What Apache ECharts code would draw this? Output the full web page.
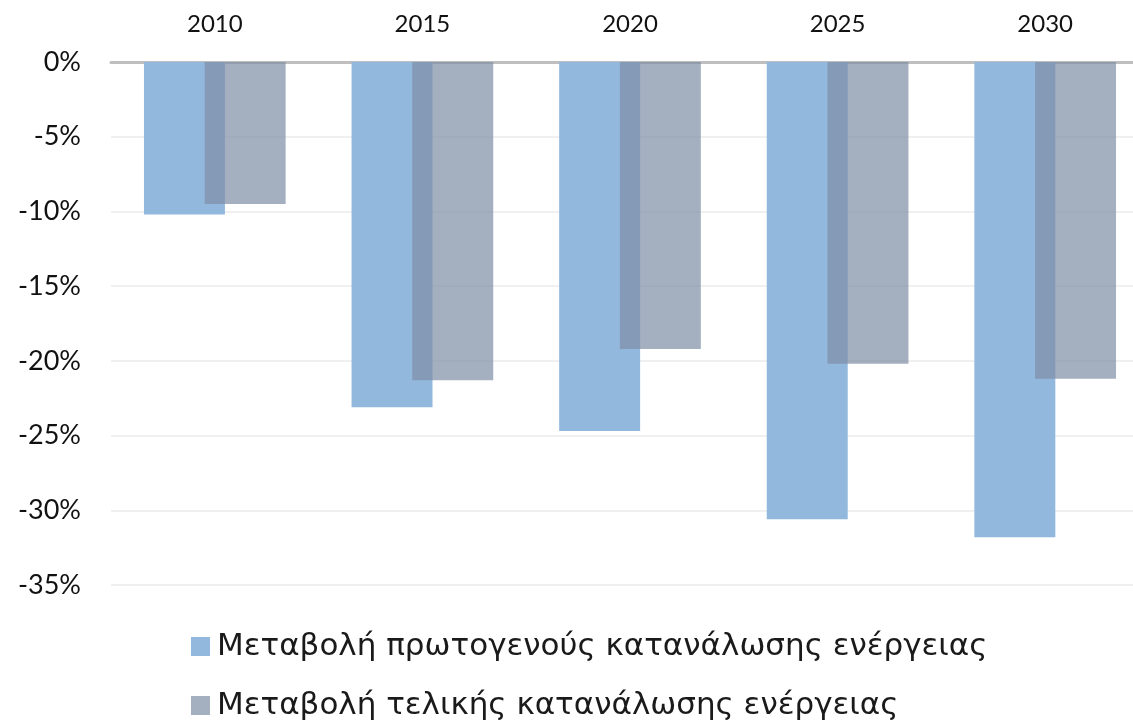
<!DOCTYPE html>
<html>
<head>
<meta charset="utf-8">
<script src="https://cdn.jsdelivr.net/npm/echarts@6/dist/echarts.min.js"></script>
<style>html,body{margin:0;padding:0;background:#fff;}#c{width:1133px;height:725px;}</style>
</head>
<body>
<div id="c"></div>
<script>
const categories = ['2010', '2015', '2020', '2025', '2030'];
const primaryChange = [-10.2, -23.1, -24.7, -30.6, -31.8];
const finalChange = [-9.5, -21.3, -19.2, -20.2, -21.2];
const seriesNames = ['Μεταβολή πρωτογενούς κατανάλωσης ενέργειας', 'Μεταβολή τελικής κατανάλωσης ενέργειας'];

const chart = echarts.init(document.getElementById('c'), null, {renderer: 'canvas'});
chart.setOption({
  animation: false,
  backgroundColor: '#ffffff',
  grid: {left: 111, width: 1038, top: 62, height: 523, containLabel: false, outerBoundsMode: 'none'},
  legend: {
    orient: 'vertical',
    left: 191,
    top: 631,
    padding: 0,
    height: 94,
    itemWidth: 19,
    itemHeight: 19,
    itemGap: 28,
    icon: 'rect',
    textStyle: {fontFamily: 'DejaVu Sans', fontSize: 31, lineHeight: 30, color: '#1a1a1a', padding: [0, 0, 0, 2]},
    data: seriesNames
  },
  xAxis: {
    type: 'category',
    position: 'top',
    data: categories,
    axisLine: {show: true, lineStyle: {color: '#bfbfbf', width: 3}},
    axisTick: {show: false},
    axisLabel: {fontFamily: 'Lato', fontSize: 24, color: '#111', margin: 26}
  },
  yAxis: {
    type: 'value',
    min: -35,
    max: 0,
    interval: 5,
    axisLine: {show: false},
    axisTick: {show: false},
    splitLine: {show: true, lineStyle: {color: '#f0f0f0', width: 2}},
    axisLabel: {fontFamily: 'Lato', fontSize: 27, color: '#111', margin: 30, formatter: v => v + '%'}
  },
  series: [
    {
      name: seriesNames[0],
      type: 'bar',
      data: primaryChange,
      barWidth: '39%',
      barGap: '-25%',
      itemStyle: {color: '#93b8de'}
    },
    {
      name: seriesNames[1],
      type: 'bar',
      data: finalChange,
      barWidth: '39%',
      barGap: '-25%',
      itemStyle: {color: 'rgba(126,141,165,0.7)'}
    }
  ]
});
</script>
</body>
</html>
